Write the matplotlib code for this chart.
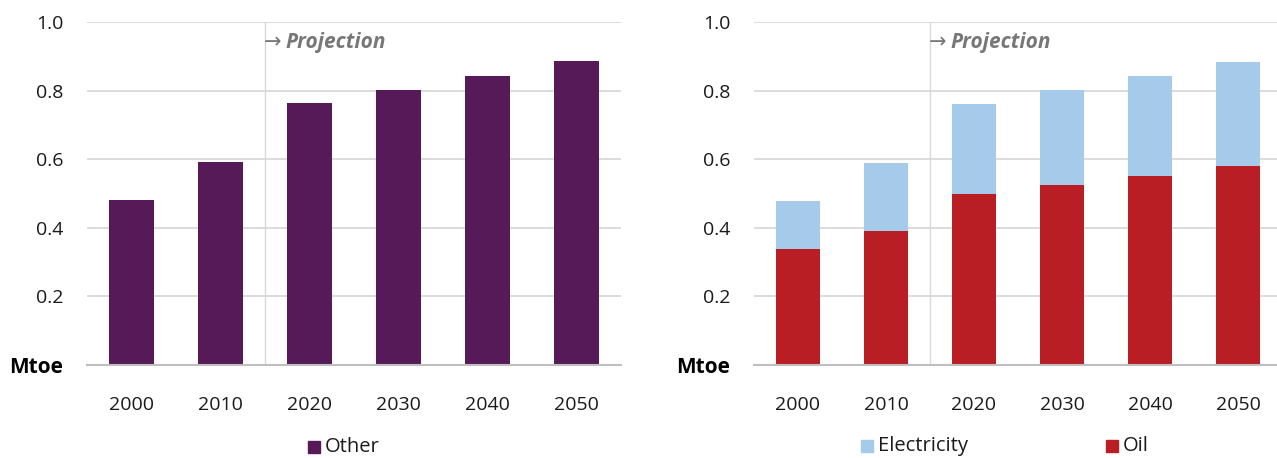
import matplotlib
matplotlib.use("Agg")
import matplotlib.pyplot as plt
from matplotlib.patches import Rectangle

years = ["2000", "2010", "2020", "2030", "2040", "2050"]
other = [0.480, 0.592, 0.763, 0.802, 0.843, 0.886]
oil = [0.337, 0.390, 0.499, 0.525, 0.551, 0.581]
electricity = [0.141, 0.199, 0.261, 0.276, 0.291, 0.302]
yticks = [0, 0.2, 0.4, 0.6, 0.8, 1.0]
ytick_labels = ["Mtoe", "0.2", "0.4", "0.6", "0.8", "1.0"]

C_OTHER = "#561a59"
C_ELEC = "#a6cbea"
C_OIL = "#b81e23"
GRID = "#d9d9d9"
FONT = ["Open Sans", "DejaVu Sans"]

plt.rcParams["font.family"] = FONT
W, H = 1277, 458
fig = plt.figure(figsize=(W / 100, H / 100), dpi=100)

def px_axes(x0, y_top, x1, y_bot):
    return fig.add_axes([x0 / W, 1 - y_bot / H, (x1 - x0) / W, (y_bot - y_top) / H])

def style(ax):
    ax.set_ylim(0, 1.0)
    ax.set_xlim(-0.5, len(years) - 0.5)
    ax.set_yticks(yticks)
    ax.set_yticklabels(ytick_labels)
    for lab in ax.get_yticklabels():
        lab.set_fontsize(14)
        lab.set_color("#1a1a1a")
        if lab.get_text() == "Mtoe":
            lab.set_fontweight("bold")
            lab.set_fontsize(15)
            lab.set_color("black")
    ax.set_xticks(range(len(years)))
    ax.set_xticklabels(years, fontsize=14, color="#1a1a1a")
    ax.tick_params(axis="both", length=0)
    ax.tick_params(axis="y", pad=17)
    ax.tick_params(axis="x", pad=22)
    for s in ["top", "right", "left"]:
        ax.spines[s].set_visible(False)
    ax.spines["bottom"].set_color("#bfbfbf")
    ax.spines["bottom"].set_linewidth(1.5)
    ax.grid(axis="y", color=GRID, linewidth=1.3)
    ax.set_axisbelow(True)
    ax.axvline(1.5, ymin=0, ymax=1, color=GRID, linewidth=1.0)
    ax.text(1.49, 0.94, "\u2192", fontsize=15, color="#777777",
            ha="left", va="center", fontfamily=FONT)
    ax.text(1.73, 0.94, "Projection", fontsize=15, color="#777777",
            fontweight="bold", fontstyle="italic", ha="left", va="center")

x = list(range(len(years)))

ax1 = px_axes(87, 22, 621, 365)
ax1.bar(x, other, width=0.5, color=C_OTHER, zorder=2)
style(ax1)

ax2 = px_axes(754, 22, 1282, 365)
ax2.bar(x, oil, width=0.5, color=C_OIL, zorder=2)
ax2.bar(x, electricity, width=0.5, bottom=oil, color=C_ELEC, zorder=2)
style(ax2)

def legend_item(xpx, ypx, color, label):
    fig.patches.append(Rectangle(((xpx) / W, 1 - (ypx + 6) / H), 12 / W, 12 / H,
                                 transform=fig.transFigure, color=color))
    fig.text((xpx + 17) / W, 1 - ypx / H, label, fontsize=14.5, color="#1a1a1a",
             ha="left", va="center")

legend_item(308, 447, C_OTHER, "Other")
legend_item(861, 446, C_ELEC, "Electricity")
legend_item(1106, 446, C_OIL, "Oil")

fig.savefig("out.png", dpi=100)
